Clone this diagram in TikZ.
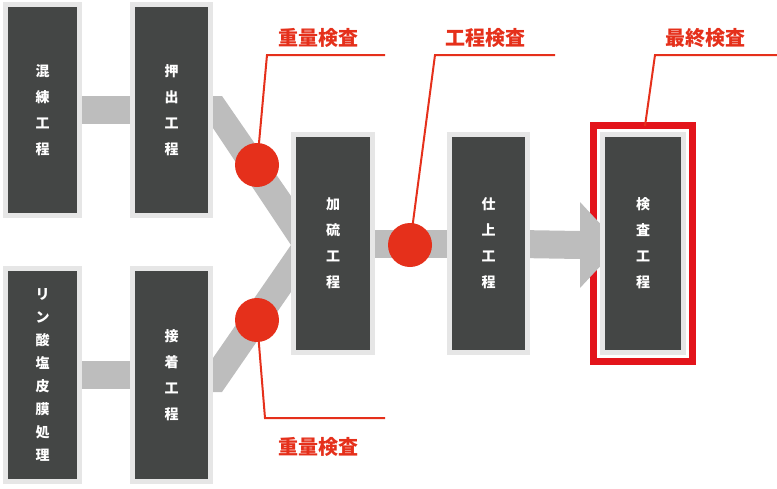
\documentclass[tikz,border=0pt]{standalone}
\usepackage{fontspec}
\newfontfamily\cjk{Noto Sans CJK JP}
\usetikzlibrary{positioning,backgrounds,calc}
\definecolor{boxgray}{HTML}{444645}
\definecolor{rimgray}{HTML}{E6E6E6}
\definecolor{bargray}{HTML}{BDBDBD}
\definecolor{chkred}{HTML}{E5301B}
\definecolor{framered}{HTML}{E3141B}
\tikzstyle{stage} = [rectangle, fill=boxgray, draw=rimgray, line width=5pt, text=white,
  align=center, inner sep=0pt, font={\cjk\bfseries\fontsize{14}{26}\selectfont}]
\tikzstyle{bar} = [draw=bargray, line width=28pt]
\tikzstyle{dot} = [circle, fill=chkred, minimum size=44pt, inner sep=0pt]
\tikzstyle{lead} = [draw=chkred, line width=2pt]
\tikzstyle{tag} = [text=chkred, font={\cjk\bfseries\fontsize{20}{24}\selectfont}]
\begin{document}
\begin{tikzpicture}[x=1pt,y=-1pt]
\useasboundingbox (0,0) rectangle (777,488);
% stages
\node[stage, minimum width=74pt, minimum height=211pt] (mix) at (42.5,110) {混\\練\\工\\程};
\node[stage, minimum width=78pt, minimum height=211pt] (push) at (171.5,110) {押\\出\\工\\程};
\node[stage, minimum width=74pt, minimum height=213pt, font={\cjk\bfseries\fontsize{14}{23}\selectfont}] (coat) at (42.5,375) {リ\\ン\\酸\\塩\\皮\\膜\\処\\理};
\node[stage, minimum width=78pt, minimum height=213pt] (bond) at (171.5,375) {接\\着\\工\\程};
\node[stage, minimum width=79pt, minimum height=218pt] (vulc) at (333,243.5) {加\\硫\\工\\程};
\node[stage, minimum width=78pt, minimum height=218pt] (fin) at (488.5,243.5) {仕\\上\\工\\程};
\node[stage, minimum width=81pt, minimum height=218pt] (insp) at (643,243.5) {検\\査\\工\\程};
% check points
\node[dot] (c1) at (257,165) {};
\node[dot] (c2) at (257,320) {};
\node[dot] (c3) at (410,245) {};
\coordinate (k1) at (267,55);
\coordinate (k2) at (265,418);
\coordinate (k3) at (435,55);
\coordinate (k4) at (655,55);
\node[tag] (t1) at (318,38) {重量検査};
\node[tag] (t2) at (318,447) {重量検査};
\node[tag] (t3) at (485,38) {工程検査};
\node[tag] (t4) at (705,38) {最終検査};
\begin{pgfonlayer}{background}
\draw[bar] (mix) -- (push);
\draw[bar] (coat) -- (bond);
\draw[bar] (vulc) -- (fin);
\fill[bargray] (push.east |- 0,96) -- (222,96) -- (vulc.west |- 0,196) -- (vulc.west |- 0,292)
  -- (222,392) -- (bond.east |- 0,392) -- (bond.east |- 0,358) -- (vulc.west |- 0,245)
  -- (push.east |- 0,128) -- cycle;
\draw[framered, line width=7pt] ($(insp.north west)+(-6.5,-6.5)$) rectangle ($(insp.south east)+(6.5,6.5)$);
\draw[bar] (fin) -- (580,245);
\fill[bargray] (580,202) -- (620,245) -- (580,288) -- cycle;
\draw[lead] (c1.center) -- (k1) -- (385,55);
\draw[lead] (c2.center) -- (k2) -- (385,418);
\draw[lead] (c3.center) -- (k3) -- (555,55);
\draw[lead] (645,126) -- (k4) -- (777,55);
\end{pgfonlayer}
\end{tikzpicture}
\end{document}
